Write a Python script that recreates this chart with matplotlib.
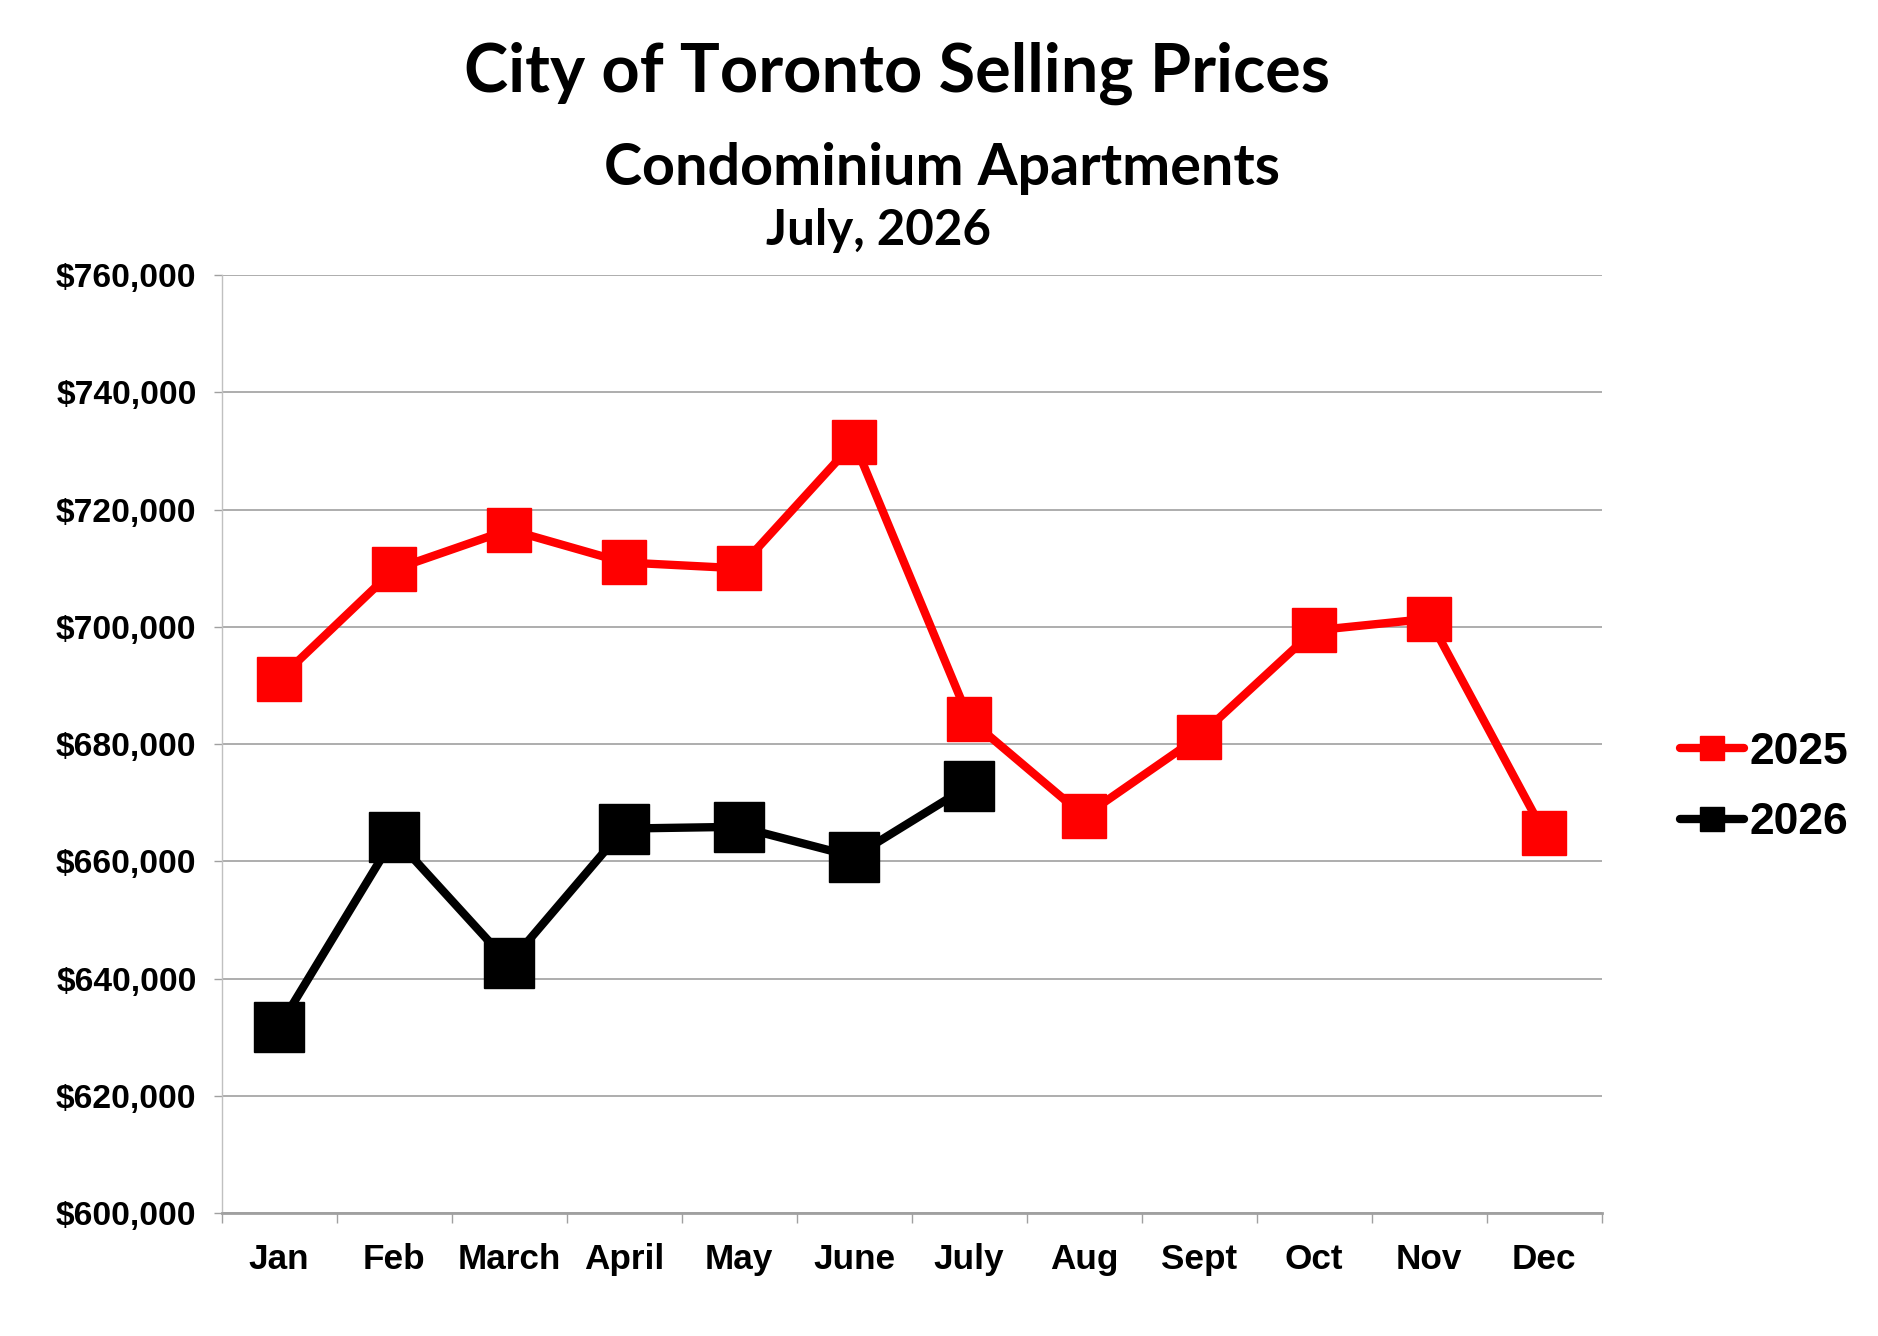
import matplotlib
matplotlib.use("Agg")
import matplotlib.pyplot as plt
from matplotlib.lines import Line2D
from matplotlib.ticker import FuncFormatter, FixedLocator

months = ["Jan", "Feb", "March", "April", "May", "June", "July",
          "Aug", "Sept", "Oct", "Nov", "Dec"]
prices_2025 = [691100, 709800, 716600, 711000, 710000, 731500, 684300,
               667700, 681300, 699400, 701400, 664900]
prices_2026 = [631800, 664100, 642600, 665600, 665900, 660800, 672900]
series_labels = ["2025", "2026"]
yticks = [600000, 620000, 640000, 660000, 680000, 700000, 720000, 740000, 760000]

title = "City of Toronto Selling Prices"
subtitle = "Condominium Apartments"
date_line = "July, 2026"

fig = plt.figure(figsize=(18.78, 13.36), dpi=100)
ax = fig.add_axes([0.118, 0.092, 0.8528 - 0.118, 0.794 - 0.092])

x25 = list(range(len(prices_2025)))
x26 = list(range(len(prices_2026)))
ax.plot(x25, prices_2025, color="#ff0000", lw=6, marker="s", ms=32,
        mec="#ff0000", mfc="#ff0000", zorder=3, solid_joinstyle="miter")
ax.plot(x26, prices_2026, color="black", lw=6, marker="s", ms=35.5,
        mec="black", mfc="black", zorder=4, solid_joinstyle="miter")

ax.set_xlim(-0.5, len(months) - 0.5)
ax.set_ylim(yticks[0], yticks[-1])
ax.set_yticks(yticks)
ax.yaxis.set_major_formatter(FuncFormatter(lambda v, p: "${:,.0f}".format(v)))
ax.set_xticks(x25)
ax.set_xticklabels(months)
ax.xaxis.set_minor_locator(FixedLocator([i - 0.5 for i in range(len(months) + 1)]))

ax.grid(axis="y", color="#a0a0a0", lw=1.2, zorder=0)
ax.set_axisbelow(True)
for s in ["top", "right"]:
    ax.spines[s].set_visible(False)
ax.spines["left"].set_color("#c0c0c0")
ax.spines["left"].set_linewidth(1.0)
ax.spines["bottom"].set_color("#a0a0a0")
ax.spines["bottom"].set_linewidth(2.0)

tickfont = "Liberation Sans"
ax.tick_params(axis="y", which="major", length=6, width=1.0, color="#a0a0a0",
               pad=12, labelsize=24.2)
ax.tick_params(axis="x", which="major", length=0, pad=21.5, labelsize=25.3)
ax.tick_params(axis="x", which="minor", length=7, width=1.0, color="#a0a0a0")
for lab in ax.get_xticklabels() + ax.get_yticklabels():
    lab.set_fontfamily(tickfont)
    lab.set_fontweight("bold")

tfont = "Lato"
fig.text(0.4774, 0.9314, title, ha="center", va="baseline",
         fontsize=48, fontweight="bold", family=tfont)
fig.text(0.5016, 0.8615, subtitle, ha="center", va="baseline",
         fontsize=41.4, fontweight="bold", family=tfont)
fig.text(0.468, 0.8166, date_line, ha="center", va="baseline",
         fontsize=35.5, fontweight="bold", family=tfont)

handles = [Line2D([], [], color="#ff0000", lw=6, marker="s", ms=17,
                  mec="#ff0000", mfc="#ff0000", solid_capstyle="round"),
           Line2D([], [], color="black", lw=6, marker="s", ms=17,
                  mec="black", mfc="black", solid_capstyle="round")]
fig.legend(handles, series_labels, loc="center left",
           bbox_to_anchor=(0.8945, 0.4105), frameon=False,
           prop={"family": tickfont, "weight": "bold", "size": 32},
           handlelength=1.45, handletextpad=0.12, labelspacing=0.66,
           borderpad=0, borderaxespad=0)

fig.savefig("out.png", dpi=100, facecolor="white")
